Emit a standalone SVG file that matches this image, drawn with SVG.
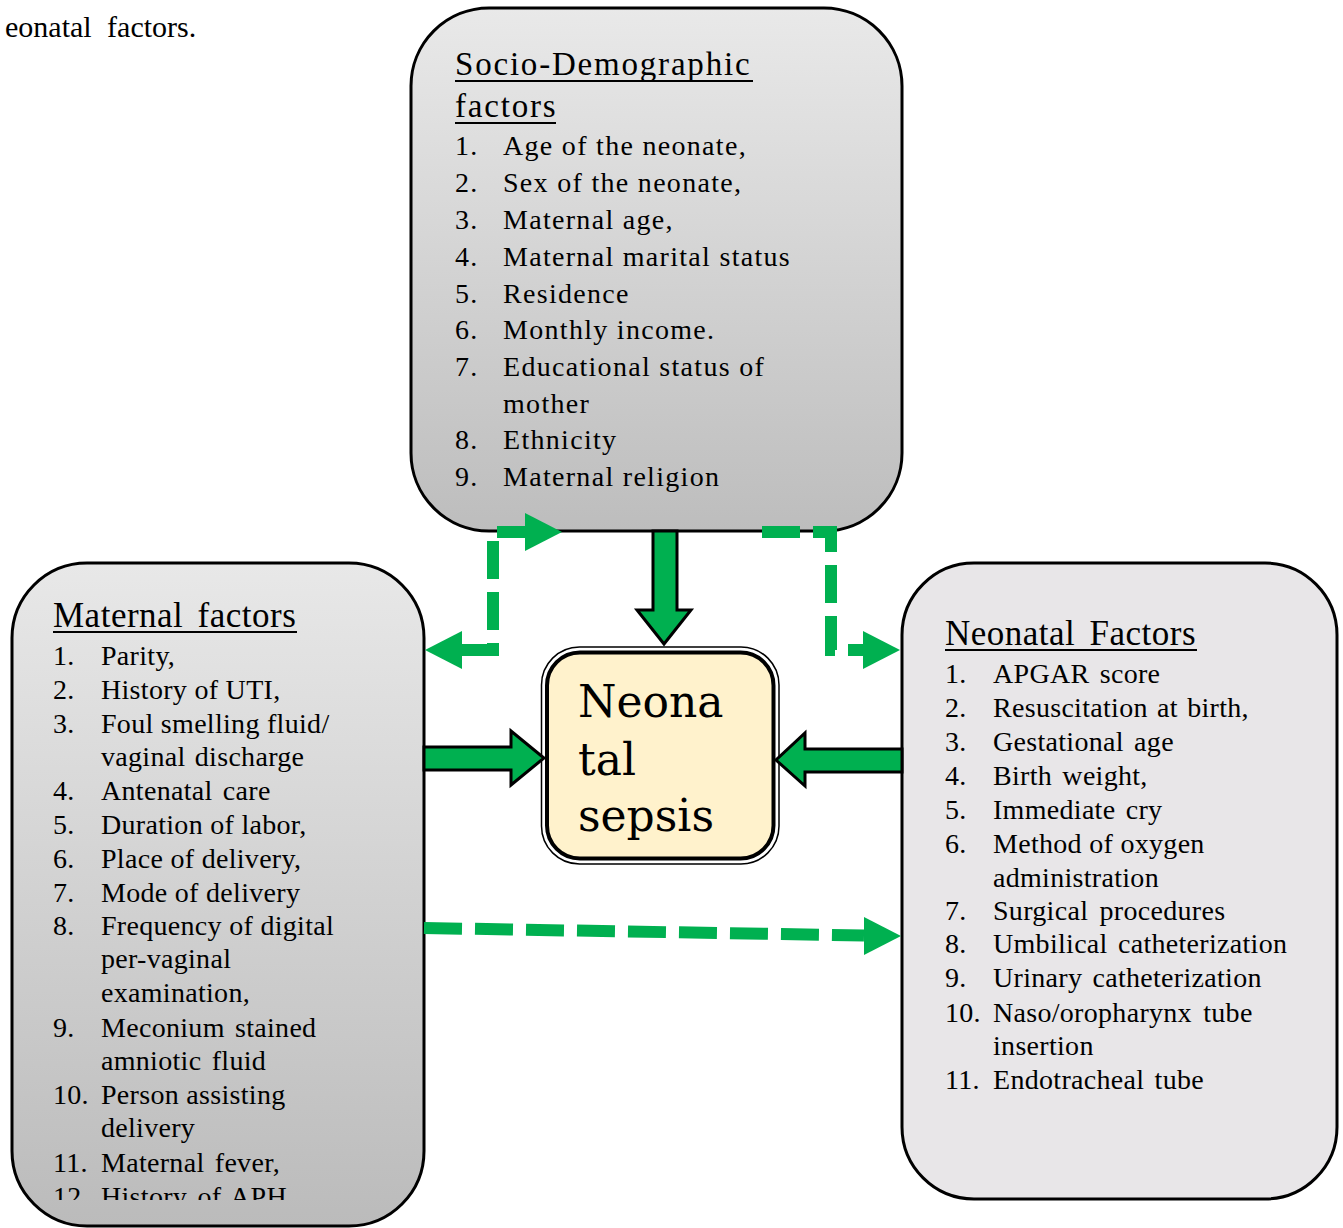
<svg xmlns="http://www.w3.org/2000/svg" width="1343" height="1228" viewBox="0 0 1343 1228">
<defs>
<linearGradient id="gTop" x1="0" y1="0" x2="0" y2="1">
<stop offset="0" stop-color="#e9e9e9"/>
<stop offset="1" stop-color="#bdbdbd"/>
</linearGradient>
<linearGradient id="gLeft" x1="0" y1="0" x2="0" y2="1">
<stop offset="0" stop-color="#e8e8e8"/>
<stop offset="1" stop-color="#bbbbbb"/>
</linearGradient>
<clipPath id="clipLeft"><rect x="12" y="563" width="412" height="637"/></clipPath>
</defs>
<style>
text{font-family:"Liberation Serif","Times New Roman",serif;fill:#000}
.box{stroke:#000;stroke-width:3}
.title{font-size:35px;letter-spacing:0.5px;word-spacing:5px}
.t1{font-size:33px;letter-spacing:1.8px}
.it{font-size:28px;letter-spacing:0.3px}
.itw{font-size:28px;letter-spacing:1.3px}
.ul{stroke:#000;stroke-width:2}
.dash{fill:none;stroke:#00b050;stroke-width:12;stroke-dasharray:38 13}
.head{fill:#00b050}
.block{fill:#00b050;stroke:#000;stroke-width:3;stroke-linejoin:miter}
.center{font-family:"DejaVu Serif",serif;font-size:44px}
</style>

<text x="5" y="37" style="font-size:30px;word-spacing:8px">eonatal factors.</text>

<g id="socio">
<rect class="box" x="411" y="8" width="491" height="523" rx="78" ry="78" fill="url(#gTop)"/>
<text class="t1" x="455" y="75">Socio-Demographic</text>
<line class="ul" x1="455" y1="81" x2="753" y2="81"/>
<text class="t1" x="455" y="117">factors</text>
<line class="ul" x1="455" y1="123" x2="556" y2="123"/>
<g class="itw">
<text x="455" y="155">1.</text><text x="503" y="155">Age of the neonate,</text>
<text x="455" y="192">2.</text><text x="503" y="192">Sex of the neonate,</text>
<text x="455" y="229">3.</text><text x="503" y="229">Maternal age,</text>
<text x="455" y="266">4.</text><text x="503" y="266">Maternal marital status</text>
<text x="455" y="303">5.</text><text x="503" y="303">Residence</text>
<text x="455" y="339">6.</text><text x="503" y="339">Monthly income.</text>
<text x="455" y="376">7.</text><text x="503" y="376">Educational status of</text>
<text x="503" y="413">mother</text>
<text x="455" y="449">8.</text><text x="503" y="449">Ethnicity</text>
<text x="455" y="486">9.</text><text x="503" y="486">Maternal religion</text>
</g>
</g>

<g id="maternal">
<rect class="box" x="12" y="563" width="412" height="663" rx="75" ry="75" fill="url(#gLeft)"/>
<text class="title" x="53" y="627">Maternal factors</text>
<line class="ul" x1="53" y1="632" x2="297" y2="632"/>
<g class="it" clip-path="url(#clipLeft)">
<text x="53" y="665">1.</text><text x="101" y="665">Parity,</text>
<text x="53" y="699">2.</text><text x="101" y="699">History of UTI,</text>
<text x="53" y="733">3.</text><text x="101" y="733">Foul smelling fluid/</text>
<text x="101" y="766" style="word-spacing:2px">vaginal discharge</text>
<text x="53" y="800">4.</text><text x="101" y="800" style="word-spacing:3px">Antenatal care</text>
<text x="53" y="834">5.</text><text x="101" y="834">Duration of labor,</text>
<text x="53" y="868">6.</text><text x="101" y="868">Place of delivery,</text>
<text x="53" y="902">7.</text><text x="101" y="902">Mode of delivery</text>
<text x="53" y="935">8.</text><text x="101" y="935">Frequency of digital</text>
<text x="101" y="968">per-vaginal</text>
<text x="101" y="1002">examination,</text>
<text x="53" y="1037">9.</text><text x="101" y="1037" style="word-spacing:3px">Meconium stained</text>
<text x="101" y="1070" style="word-spacing:3px">amniotic fluid</text>
<text x="53" y="1104">10.</text><text x="101" y="1104">Person assisting</text>
<text x="101" y="1137">delivery</text>
<text x="53" y="1172">11.</text><text x="101" y="1172" style="word-spacing:3px">Maternal fever,</text>
<text x="53" y="1206">12.</text><text x="101" y="1206" style="word-spacing:3px">History of APH</text>
</g>
</g>

<g id="neonatal">
<rect class="box" x="902" y="563" width="435" height="636" rx="72" ry="72" fill="#e8e6e8"/>
<text class="title" x="945" y="645">Neonatal Factors</text>
<line class="ul" x1="945" y1="650" x2="1197" y2="650"/>
<g class="it">
<text x="945" y="683">1.</text><text x="993" y="683" style="word-spacing:3px">APGAR score</text>
<text x="945" y="717">2.</text><text x="993" y="717" style="word-spacing:2px">Resuscitation at birth,</text>
<text x="945" y="751">3.</text><text x="993" y="751" style="word-spacing:3px">Gestational age</text>
<text x="945" y="785">4.</text><text x="993" y="785" style="word-spacing:3px">Birth weight,</text>
<text x="945" y="819">5.</text><text x="993" y="819" style="word-spacing:3px">Immediate cry</text>
<text x="945" y="853">6.</text><text x="993" y="853">Method of oxygen</text>
<text x="993" y="887">administration</text>
<text x="945" y="920">7.</text><text x="993" y="920" style="word-spacing:4px">Surgical procedures</text>
<text x="945" y="953">8.</text><text x="993" y="953" style="word-spacing:3px">Umbilical catheterization</text>
<text x="945" y="987">9.</text><text x="993" y="987" style="word-spacing:3px">Urinary catheterization</text>
<text x="945" y="1022">10.</text><text x="993" y="1022" style="word-spacing:4px">Naso/oropharynx tube</text>
<text x="993" y="1055">insertion</text>
<text x="945" y="1089">11.</text><text x="993" y="1089" style="word-spacing:3px">Endotracheal tube</text>
</g>
</g>

<g id="sepsis">
<rect x="541.5" y="647" width="237.5" height="217" rx="38" ry="38" fill="#fff" stroke="#000" stroke-width="1.5"/>
<rect x="547" y="652.5" width="226.5" height="206" rx="33" ry="33" fill="#fff2cc" stroke="#000" stroke-width="4"/>
<text class="center" x="578" y="717">Neona</text>
<text class="center" x="578" y="775">tal</text>
<text class="center" x="578" y="831">sepsis</text>
</g>

<g id="connectors">
<polygon class="block" points="653,531 677,531 677,610 691,610 664,644 637,610 653,610"/>
<polygon class="block" points="424,747 511,747 511,731 544,758 511,785 511,770 424,770"/>
<polygon class="block" points="902,749 805,749 805,733 776,760 805,786 805,772 902,772"/>
<path class="dash" d="M462,650 H493 V532 H525"/>
<polygon class="head" points="525,513 562,532 525,551"/>
<polygon class="head" points="462,631 425,650 462,669"/>
<path class="dash" d="M762,532 H831 V650 H863"/>
<polygon class="head" points="863,631 900,650 863,669"/>
<path class="dash" d="M424,928 L864,935.5"/>
<polygon class="head" points="864,917 901,936 864,955"/>
</g>
</svg>
